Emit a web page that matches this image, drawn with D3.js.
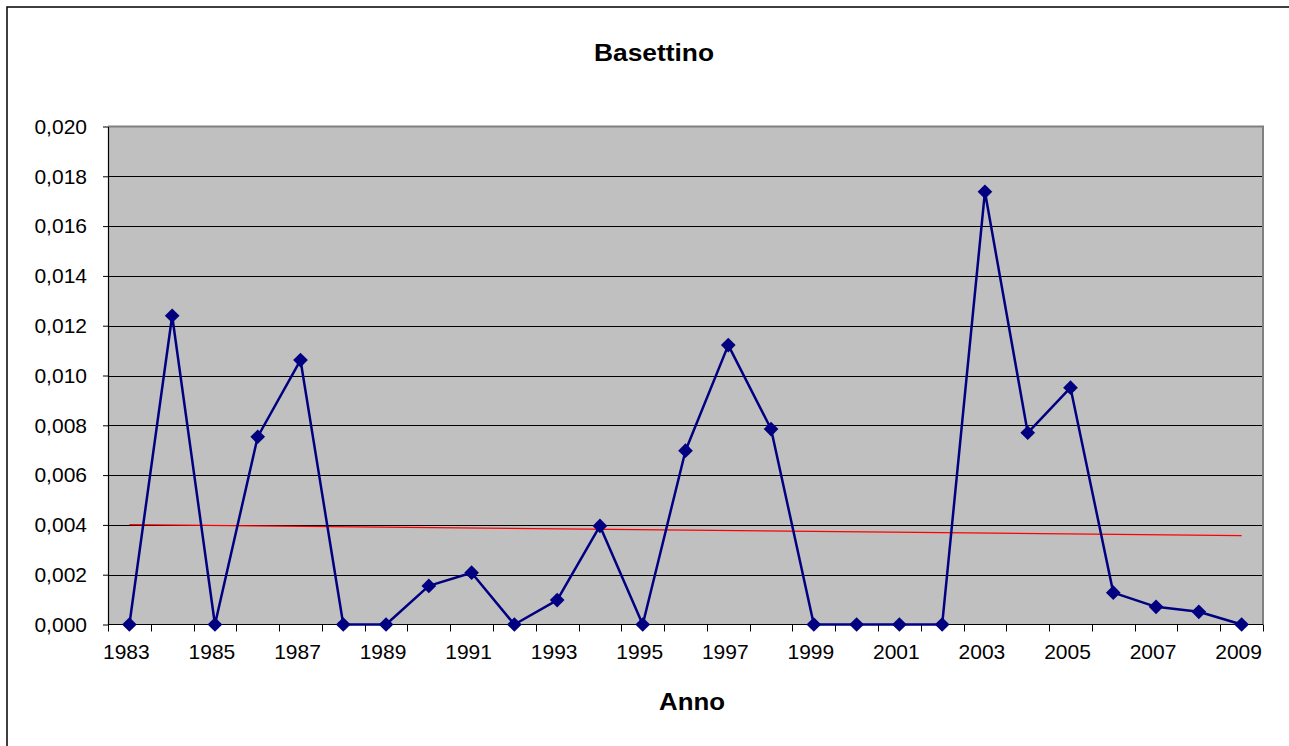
<!DOCTYPE html>
<html>
<head>
<meta charset="utf-8">
<script src="https://cdn.jsdelivr.net/npm/d3@7"></script>
<style>
  html, body { margin: 0; padding: 0; background: #fff; }
  svg { display: block; }
  text { font-family: "Liberation Sans", Arial, sans-serif; }
</style>
</head>
<body>
<svg id="chart" width="1289" height="746"></svg>
<script>
// ---- Data ----
const title = "Basettino";
const xAxisTitle = "Anno";
const years = [1983,1984,1985,1986,1987,1988,1989,1990,1991,1992,1993,1994,1995,1996,
               1997,1998,1999,2000,2001,2002,2003,2004,2005,2006,2007,2008,2009];
const values = [0, 0.0124, 0, 0.00754, 0.01062, 0, 0, 0.00155, 0.00208, 0, 0.00098, 0.00396, 0,
                0.00698, 0.01122, 0.00785, 0, 0, 0, 0, 0.01738, 0.0077, 0.00951, 0.00128,
                0.00071, 0.00051, 0];
const yTicks = [0, 0.002, 0.004, 0.006, 0.008, 0.010, 0.012, 0.014, 0.016, 0.018, 0.020];
const xLabelYears = years.filter((y, i) => i % 2 === 0);

// ---- Layout ----
const svg = d3.select("#chart");
const plot = { left: 108, right: 1263, top: 126.5, bottom: 624.5 };

const x = d3.scaleBand().domain(years).range([plot.left, plot.right]).padding(0);
const y = d3.scaleLinear().domain([0, 0.02]).range([plot.bottom, plot.top]);
const cx = d => x(d) + x.bandwidth() / 2;

const itLocale = d3.formatLocale({ decimal: ",", thousands: ".", grouping: [3], currency: ["", "€"] });
const fmt = itLocale.format(".3f");

// outer frame
svg.append("rect").attr("x", 7).attr("y", 7).attr("width", 1320).attr("height", 800)
  .attr("fill", "#fff").attr("stroke", "#000").attr("stroke-width", 1.5);

// plot background
svg.append("rect").attr("x", plot.left).attr("y", plot.top)
  .attr("width", plot.right - plot.left).attr("height", plot.bottom - plot.top)
  .attr("fill", "#C0C0C0");

// gridlines
svg.append("g").selectAll("line").data(yTicks.slice(1, -1)).join("line")
  .attr("x1", plot.left).attr("x2", plot.right)
  .attr("y1", d => Math.round(y(d)) + 0.5).attr("y2", d => Math.round(y(d)) + 0.5)
  .attr("stroke", "#000").attr("stroke-width", 1.2);

// plot border top & right (grey)
svg.append("path")
  .attr("d", `M${plot.left},${plot.top} H${plot.right} V${plot.bottom}`)
  .attr("fill", "none").attr("stroke", "#808080").attr("stroke-width", 2);

// Y axis
const yAxis = d3.axisLeft(y).tickValues(yTicks).tickFormat(fmt).tickSizeInner(5).tickSizeOuter(0).tickPadding(16);
const gy = svg.append("g").attr("transform", `translate(${plot.left},0)`).call(yAxis);
gy.select(".domain").attr("stroke", "#000").attr("stroke-width", 1.2);
gy.selectAll(".tick line").attr("stroke", "#000");
gy.selectAll(".tick text").attr("font-size", 21).attr("fill", "#000")
  .attr("font-family", "Liberation Sans, Arial, sans-serif");

// X axis: ticks at category boundaries
const boundaries = years.map(d => x(d)).concat([plot.right]);
const gx = svg.append("g");
gx.append("line").attr("x1", plot.left).attr("x2", plot.right)
  .attr("y1", plot.bottom).attr("y2", plot.bottom).attr("stroke", "#000").attr("stroke-width", 1.2);
gx.selectAll("line.tk").data(boundaries).join("line").attr("class", "tk")
  .attr("x1", d => Math.round(d) + 0.5).attr("x2", d => Math.round(d) + 0.5)
  .attr("y1", plot.bottom).attr("y2", plot.bottom + 7).attr("stroke", "#000");
gx.selectAll("text").data(xLabelYears).join("text")
  .attr("x", d => cx(d) - 3).attr("y", 659)
  .attr("text-anchor", "middle").attr("font-size", 21).attr("fill", "#000")
  .text(d => d);

// trend line (least squares linear trend over category index, as in the spreadsheet)
const n = values.length;
const idx = d3.range(n);
const mx = d3.mean(idx), my = d3.mean(values);
const slope = d3.sum(idx, i => (i - mx) * (values[i] - my)) / d3.sum(idx, i => (i - mx) ** 2);
const icpt = my - slope * mx;
svg.append("line")
  .attr("x1", cx(years[0])).attr("x2", cx(years[n - 1]))
  .attr("y1", y(icpt)).attr("y2", y(icpt + slope * (n - 1)))
  .attr("stroke", "#FF0000").attr("stroke-width", 1.2);

// data line
const line = d3.line().x((d, i) => cx(years[i])).y(d => y(d));
svg.append("path").datum(values).attr("d", line)
  .attr("fill", "none").attr("stroke", "#000080").attr("stroke-width", 2.5)
  .attr("stroke-linejoin", "round");

// markers (diamonds)
svg.append("g").selectAll("path").data(values).join("path")
  .attr("transform", (d, i) => `translate(${cx(years[i])},${y(d)}) rotate(45)`)
  .attr("d", d3.symbol().type(d3.symbolSquare).size(108))
  .attr("fill", "#000080");

// titles
svg.append("text").attr("x", 654).attr("y", 61).attr("text-anchor", "middle")
  .attr("font-size", 23).attr("font-weight", "bold").attr("fill", "#000")
  .attr("textLength", 120).attr("lengthAdjust", "spacingAndGlyphs")
  .text(title);
svg.append("text").attr("x", 692).attr("y", 710).attr("text-anchor", "middle")
  .attr("font-size", 24).attr("font-weight", "bold").attr("fill", "#000")
  .attr("textLength", 66).attr("lengthAdjust", "spacingAndGlyphs")
  .text(xAxisTitle);
</script>
</body>
</html>
